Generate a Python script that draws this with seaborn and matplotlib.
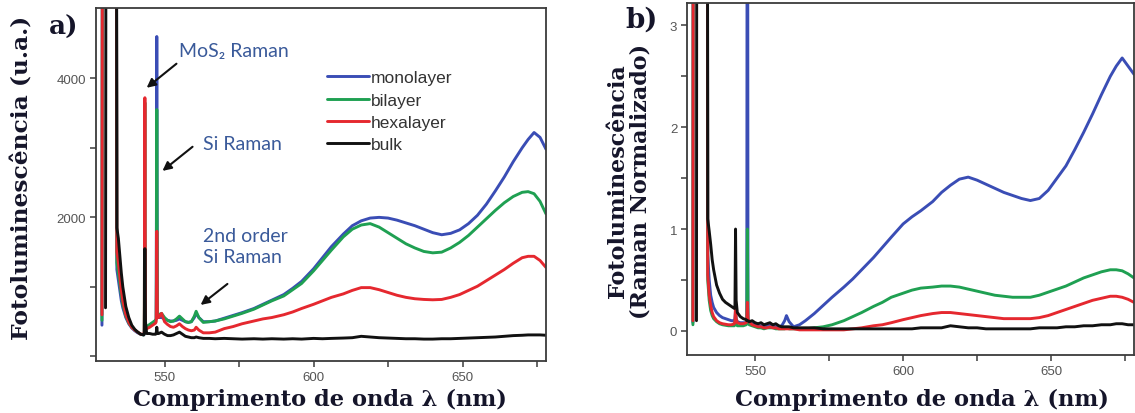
import numpy as np
import pandas as pd
import matplotlib
matplotlib.use("Agg")
import matplotlib.pyplot as plt
from matplotlib.lines import Line2D
from matplotlib.ticker import FixedLocator, NullFormatter, FuncFormatter
import seaborn as sns

# ---------------- data ----------------
layers = ["monolayer", "bilayer", "hexalayer", "bulk"]
colors = ["#3a4db5", "#1fa052", "#e5282f", "#111111"]

wavelength = [529.0, 529.2, 530.2, 530.4, 533.8, 534.0, 534.5, 535.0, 535.5, 536.0,
              537.0, 538.0, 539.0, 540.0, 541.0, 542.0, 543.0, 543.2, 543.4, 543.6,
              544.0, 545.0, 546.0, 547.0, 547.2, 547.4, 547.6, 548.0, 549.0, 550.0,
              551.0, 552.0, 553.0, 554.0, 555.0, 556.0, 557.0, 558.0, 559.0, 560.0,
              560.6, 561.5, 563.0, 565.0, 567.0, 570.0, 573.0, 576.0, 580.0, 583.0,
              586.0, 590.0, 593.0, 596.0, 600.0, 603.0, 606.0, 610.0, 613.0, 616.0,
              619.0, 622.0, 625.0, 628.0, 631.0, 634.0, 637.0, 640.0, 643.0, 646.0,
              649.0, 652.0, 655.0, 658.0, 661.0, 664.0, 667.0, 670.0, 672.0, 674.0,
              676.0, 678.0]

# panel a: photoluminescence (a.u.)
pl_mono_a = [450, 9000, 9000, 9000, 9000, 1250, 1100, 950, 800, 700,
             560, 470, 410, 370, 340, 320, 310, 320, 600, 380,
             420, 450, 480, 520, 540, 4600, 560, 560, 560, 540,
             520, 510, 510, 520, 540, 520, 500, 490, 500, 560,
             620, 560, 500, 500, 510, 550, 590, 630, 690, 750,
             810, 890, 980, 1080, 1260, 1420, 1580, 1760, 1880, 1950,
             1990, 2000, 1990, 1960, 1920, 1880, 1830, 1780, 1750, 1770,
             1820, 1910, 2030, 2190, 2380, 2580, 2800, 3000, 3120, 3220,
             3150, 2980]
pl_bi_a = [520, 9000, 9000, 9000, 9000, 1350, 1200, 1050, 880, 750,
           580, 480, 420, 380, 350, 320, 310, 330, 3650, 400,
           430, 460, 490, 520, 540, 3550, 600, 600, 620, 560,
           520, 500, 510, 540, 580, 540, 500, 490, 500, 580,
           650, 560, 490, 500, 510, 540, 580, 620, 680, 740,
           800, 870, 960, 1050, 1230, 1380, 1530, 1720, 1830, 1890,
           1910, 1860, 1780, 1700, 1620, 1560, 1510, 1490, 1500, 1560,
           1640, 1740, 1860, 1980, 2100, 2210, 2300, 2360, 2370, 2340,
           2230, 2050]
pl_hexa_a = [600, 9000, 9000, 9000, 9000, 1500, 1350, 1150, 950, 800,
             600, 490, 420, 380, 350, 320, 320, 340, 3720, 420,
             400, 420, 450, 480, 500, 1800, 560, 560, 620, 500,
             460, 430, 420, 440, 470, 430, 400, 380, 370, 380,
             420, 380, 340, 340, 350, 400, 430, 470, 510, 540,
             560, 600, 640, 690, 750, 800, 850, 900, 950, 990,
             990, 960, 920, 880, 850, 830, 820, 815, 820, 850,
             890, 950, 1010, 1090, 1170, 1250, 1340, 1420, 1440, 1440,
             1380, 1280]
pl_bulk_a = [np.nan, np.nan, 700, 9000, 9000, 1850, 1700, 1450, 1200, 1000,
             720, 560, 450, 390, 350, 320, 310, 330, 1550, 500,
             330, 330, 320, 320, 330, 420, 330, 330, 350, 320,
             300, 300, 310, 330, 350, 320, 290, 280, 270, 270,
             280, 270, 260, 260, 255, 260, 255, 250, 255, 250,
             255, 250, 255, 250, 260, 255, 260, 265, 270, 290,
             280, 270, 265, 260, 255, 255, 250, 250, 255, 255,
             260, 265, 270, 275, 280, 290, 300, 305, 310, 310,
             310, 305]

# panel b: photoluminescence normalised to Raman
pl_mono_b = [0.08, 9.0, 9.0, 9.0, 9.0, 0.75, 0.50, 0.35, 0.28, 0.23,
             0.18, 0.15, 0.13, 0.12, 0.11, 0.10, 0.10, 0.12, 0.20, 0.12,
             0.09, 0.08, 0.08, 0.08, 0.09, 9.0, 0.10, 0.09, 0.07, 0.06,
             0.05, 0.05, 0.04, 0.05, 0.06, 0.05, 0.04, 0.04, 0.05, 0.10,
             0.15, 0.09, 0.04, 0.06, 0.10, 0.17, 0.25, 0.33, 0.43, 0.51,
             0.60, 0.72, 0.82, 0.92, 1.05, 1.12, 1.18, 1.27, 1.36, 1.43,
             1.49, 1.51, 1.48, 1.44, 1.40, 1.36, 1.33, 1.30, 1.28, 1.30,
             1.38, 1.50, 1.62, 1.78, 1.95, 2.13, 2.32, 2.50, 2.60, 2.68,
             2.60, 2.52]
pl_bi_b = [0.06, 9.0, 9.0, 9.0, 9.0, 0.50, 0.30, 0.20, 0.15, 0.12,
           0.09, 0.07, 0.06, 0.055, 0.05, 0.05, 0.05, 0.07, 0.15, 0.08,
           0.05, 0.05, 0.05, 0.06, 0.07, 1.00, 0.08, 0.06, 0.05, 0.04,
           0.03, 0.03, 0.02, 0.03, 0.03, 0.03, 0.02, 0.02, 0.02, 0.02,
           0.03, 0.02, 0.02, 0.02, 0.02, 0.03, 0.04, 0.06, 0.10, 0.14,
           0.18, 0.24, 0.28, 0.33, 0.37, 0.40, 0.42, 0.43, 0.44, 0.44,
           0.43, 0.41, 0.39, 0.37, 0.35, 0.34, 0.33, 0.33, 0.33, 0.35,
           0.38, 0.41, 0.44, 0.48, 0.52, 0.55, 0.58, 0.60, 0.60, 0.59,
           0.56, 0.52]
pl_hexa_b = [0.10, 9.0, 9.0, 9.0, 9.0, 0.55, 0.35, 0.25, 0.18, 0.14,
             0.10, 0.08, 0.07, 0.065, 0.06, 0.06, 0.07, 0.10, 0.25, 0.12,
             0.08, 0.07, 0.07, 0.08, 0.10, 0.28, 0.12, 0.09, 0.06, 0.05,
             0.04, 0.04, 0.03, 0.03, 0.04, 0.03, 0.03, 0.02, 0.02, 0.02,
             0.02, 0.02, 0.02, 0.01, 0.01, 0.01, 0.01, 0.01, 0.01, 0.02,
             0.03, 0.05, 0.06, 0.08, 0.11, 0.13, 0.15, 0.17, 0.18, 0.18,
             0.17, 0.16, 0.15, 0.14, 0.13, 0.12, 0.12, 0.12, 0.12, 0.13,
             0.15, 0.18, 0.21, 0.24, 0.27, 0.30, 0.32, 0.34, 0.34, 0.33,
             0.31, 0.28]
pl_bulk_b = [np.nan, np.nan, 0.10, 9.0, 9.0, 1.10, 0.98, 0.85, 0.70, 0.60,
             0.45, 0.37, 0.31, 0.28, 0.26, 0.24, 0.22, 0.25, 1.00, 0.30,
             0.18, 0.14, 0.12, 0.11, 0.10, 0.10, 0.10, 0.09, 0.10, 0.08,
             0.07, 0.08, 0.06, 0.07, 0.08, 0.06, 0.07, 0.05, 0.04, 0.04,
             0.04, 0.04, 0.03, 0.03, 0.03, 0.03, 0.02, 0.02, 0.02, 0.02,
             0.02, 0.02, 0.02, 0.02, 0.02, 0.02, 0.03, 0.03, 0.03, 0.05,
             0.04, 0.03, 0.03, 0.02, 0.02, 0.02, 0.02, 0.02, 0.02, 0.03,
             0.03, 0.03, 0.04, 0.04, 0.05, 0.05, 0.06, 0.06, 0.07, 0.07,
             0.06, 0.06]

x_major = [550, 600, 650]
x_minor = [575, 625, 675]
ya_major = [2000, 4000]
ya_minor = [0, 1000, 3000]
yb_major = [0, 1, 2, 3]
yb_minor = [0.5, 1.5, 2.5]


def long_form(series):
    frames = [pd.DataFrame({"wl": wavelength, "pl": vals, "layer": name})
              for name, vals in zip(layers, series)]
    return pd.concat(frames, ignore_index=True).dropna()


df_a = long_form([pl_mono_a, pl_bi_a, pl_hexa_a, pl_bulk_a])
df_b = long_form([pl_mono_b, pl_bi_b, pl_hexa_b, pl_bulk_b])

# ---------------- style ----------------
sns.set_style("white")
plt.rcParams["font.family"] = ["Liberation Sans", "DejaVu Sans"]

W, H = 1135, 414
fig = plt.figure(figsize=(W / 100, H / 100), dpi=100)
ax1 = fig.add_axes([96 / W, 1 - 362 / H, 450 / W, 353 / H])
ax2 = fig.add_axes([687 / W, 1 - 356 / H, 447 / W, 352 / H])

palette = dict(zip(layers, colors))
for ax, df in ((ax1, df_a), (ax2, df_b)):
    sns.lineplot(data=df, x="wl", y="pl", hue="layer", hue_order=layers,
                 palette=palette, estimator=None, sort=False, lw=2.1,
                 ax=ax, legend=False)

ax1.set_xlim(527, 678)
ax1.set_ylim(-65, 5010)
ax2.set_xlim(527, 678)
ax2.set_ylim(-0.237, 3.22)

spine_col = "#3c3c3c"
tick_col = "#555555"
for ax in (ax1, ax2):
    for s in ax.spines.values():
        s.set_visible(True)
        s.set_color(spine_col)
        s.set_linewidth(1.3)
    ax.xaxis.set_major_locator(FixedLocator(x_major))
    ax.xaxis.set_minor_locator(FixedLocator(x_minor))
    ax.xaxis.set_minor_formatter(NullFormatter())
    ax.tick_params(which="both", direction="out", length=4.5, width=1.1,
                   color=spine_col, labelsize=9.5, labelcolor=tick_col, pad=2.5,
                   top=False, right=False, bottom=True, left=True)
    ax.set_xlabel("")
    ax.set_ylabel("")

ax1.yaxis.set_major_locator(FixedLocator(ya_major))
ax1.yaxis.set_minor_locator(FixedLocator(ya_minor))
ax1.yaxis.set_minor_formatter(NullFormatter())
ax2.yaxis.set_major_locator(FixedLocator(yb_major))
ax2.yaxis.set_minor_locator(FixedLocator(yb_minor))
ax2.yaxis.set_minor_formatter(NullFormatter())
ax2.yaxis.set_major_formatter(FuncFormatter(lambda v, p: f"{int(v)}"))

# labels
lab_kw = dict(family="DejaVu Serif", weight="bold", color="#15152a")
fig.text(320 / W, 1 - 400 / H, "Comprimento de onda λ (nm)", ha="center",
         va="center", fontsize=16.3, **lab_kw)
fig.text(922 / W, 1 - 400 / H, "Comprimento de onda λ (nm)", ha="center",
         va="center", fontsize=16.3, **lab_kw)
fig.text(23 / W, 1 - 178 / H, "Fotoluminescência (u.a.)", rotation=90,
         ha="center", va="center", fontsize=16.8, **lab_kw)
fig.text(629 / W, 1 - 181 / H, "Fotoluminescência\n(Raman Normalizado)",
         rotation=90, ha="center", va="center", multialignment="center",
         linespacing=1.05, fontsize=16, **lab_kw)
fig.text(64 / W, 1 - 27 / H, "a)", ha="center", va="center", fontsize=19, **lab_kw)
fig.text(642 / W, 1 - 20 / H, "b)", ha="center", va="center", fontsize=20, **lab_kw)

# legend
handles = [Line2D([], [], color=c, lw=2.1) for c in colors]
ax1.legend(handles, layers, loc="upper left", bbox_to_anchor=(327 / W, 1 - 71 / H),
           bbox_transform=fig.transFigure, frameon=False, fontsize=12.5,
           handlelength=2.4, handletextpad=0.12, labelspacing=0.42,
           borderpad=0, borderaxespad=0, labelcolor="#333333")

# annotations
ann_kw = dict(color="#3a5a9a", fontsize=14, family=["Lato", "DejaVu Sans"],
              ha="left", va="center")
ax1.text(555.0, 4396, "MoS₂ Raman", **ann_kw)
ax1.text(562.8, 3058, "Si Raman", **ann_kw)
ax1.text(562.8, 1583, "2nd order\nSi Raman", linespacing=1.3, **ann_kw)
arrow = dict(arrowstyle="-|>", color="#111111", lw=1.5, mutation_scale=13,
             shrinkA=0, shrinkB=0)
ax1.annotate("", xy=(544.0, 3863), xytext=(554.0, 4209), arrowprops=arrow)
ax1.annotate("", xy=(549.3, 2668), xytext=(559.4, 3015), arrowprops=arrow)
ax1.annotate("", xy=(562.1, 741), xytext=(571.1, 1043), arrowprops=arrow)

fig.savefig("out.png", dpi=100)
